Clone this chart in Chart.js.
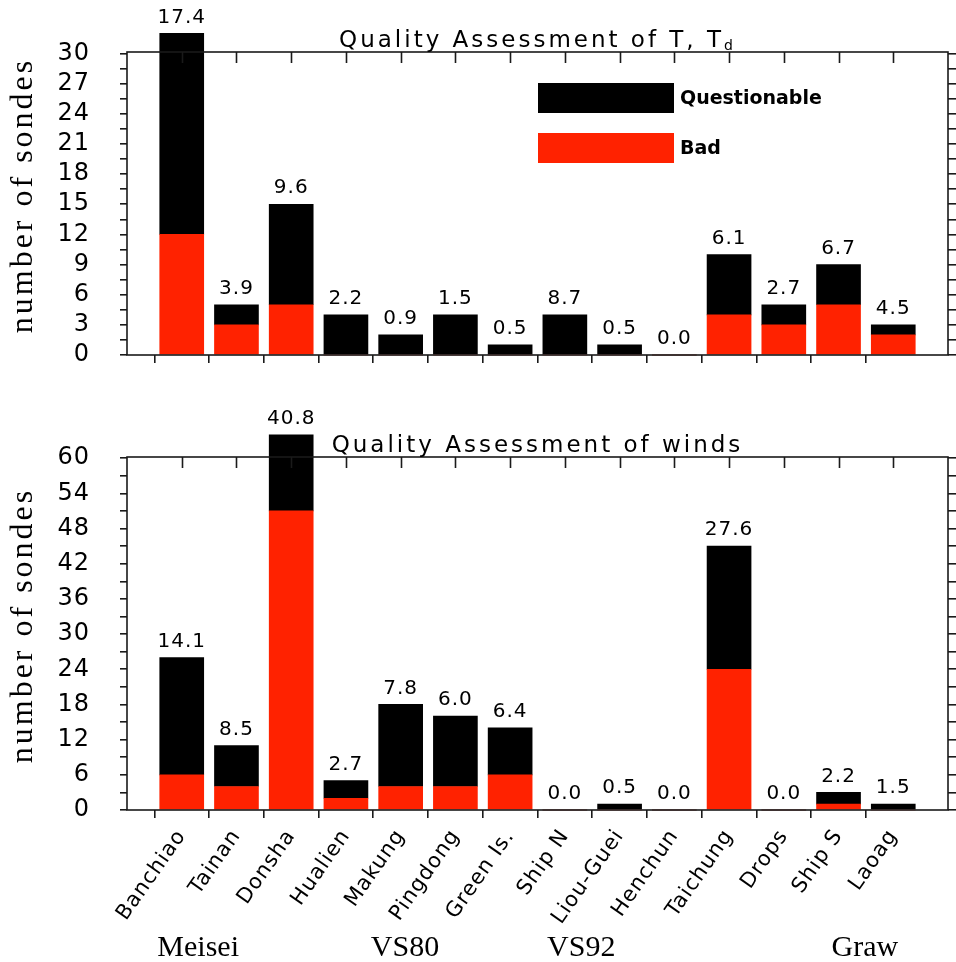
<!DOCTYPE html>
<html>
<head>
<meta charset="utf-8">
<script src="https://cdn.jsdelivr.net/npm/chart.js@4.4.1/dist/chart.umd.min.js"></script>
<style>
  html, body { margin: 0; padding: 0; background: #fff; }
  #wrap { position: relative; width: 956px; height: 962px; }
  #tempChart { position: absolute; left: 0; top: 0; }
  #windChart { position: absolute; left: 0; top: 380px; }
</style>
</head>
<body>
<div id="wrap">
  <canvas id="tempChart" width="956" height="380"></canvas>
  <canvas id="windChart" width="956" height="582"></canvas>
</div>
<script>
// Stations, in launch-site order
const stations = ['Banchiao', 'Tainan', 'Donsha', 'Hualien', 'Makung', 'Pingdong', 'Green Is.',
                  'Ship N', 'Liou-Guei', 'Henchun', 'Taichung', 'Drops', 'Ship S', 'Laoag'];

// Radiosonde types written under the station names, with their anchor in station units
const sondeTypes = ['Meisei', 'VS80', 'VS92', 'Graw'];
const sondeTypeAt = [1.3, 5.08, 8.3, 13.48];

// Temperature / dew point check: counts of sondes
const tempBad          = [12, 3, 5, 0, 0, 0, 0, 0, 0, 0, 4, 3, 5, 2];
const tempQuestionable = [20, 2, 10, 4, 2, 4, 1, 4, 1, 0, 6, 2, 4, 1];
const tempPercent      = ['17.4', '3.9', '9.6', '2.2', '0.9', '1.5', '0.5', '8.7', '0.5', '0.0', '6.1', '2.7', '6.7', '4.5'];

// Wind check: counts of sondes
const windBad          = [6, 4, 51, 2, 4, 4, 6, 0, 0, 0, 24, 0, 1, 0];
const windQuestionable = [20, 7, 13, 3, 14, 12, 8, 0, 1, 0, 21, 0, 2, 1];
const windPercent      = ['14.1', '8.5', '40.8', '2.7', '7.8', '6.0', '6.4', '0.0', '0.5', '0.0', '27.6', '0.0', '2.2', '1.5'];

// Axis ranges: [max, labelled step, minor tick step]
const tempAxis = [30.15, 3, 1.5];
const windAxis = [60.2, 6, 3];

const RED = '#ff2200';
const BLACK = '#000000';
const FRAME = '#1a1a1a';
const SANS = "'DejaVu Sans', sans-serif";
const SERIF = "'Liberation Serif', serif";

Chart.defaults.font.family = SANS;
Chart.defaults.color = '#000';

// one empty slot on either side of the stations
const padded = arr => [null, ...arr, null];

// Frame, inner top ticks, panel title, axis title, value labels, legend and sonde-type names
const decor = {
  id: 'decor',
  beforeDraw(chart) {
    // slightly open spacing for the axis tick labels
    chart.ctx.letterSpacing = '1px';
  },
  afterDraw(chart, args, opts) {
    const ctx = chart.ctx;
    const area = chart.chartArea;
    const xs = chart.scales.x;
    const ys = chart.scales.y;
    ctx.letterSpacing = '0px';
    ctx.save();

    // frame
    ctx.strokeStyle = FRAME;
    ctx.lineWidth = 1.6;
    ctx.strokeRect(area.left, area.top, area.right - area.left, area.bottom - area.top);

    // ticks pointing inward from the top edge
    ctx.beginPath();
    for (let i = 1; i <= stations.length; i++) {
      const x = Math.round(xs.getPixelForValue(i)) + 0.5;
      ctx.moveTo(x, area.top);
      ctx.lineTo(x, area.top + 11);
    }
    ctx.stroke();

    // panel title with optional subscript
    ctx.fillStyle = '#000';
    ctx.font = '23px ' + SANS;
    ctx.letterSpacing = '3px';
    ctx.textBaseline = 'alphabetic';
    ctx.textAlign = 'left';
    const main = opts.title;
    const sub = opts.sub || '';
    const wMain = ctx.measureText(main).width;
    ctx.font = '14px ' + SANS;
    const wSub = sub ? ctx.measureText(sub).width : 0;
    const total = wMain + wSub;
    const cx = (area.left + area.right) / 2;
    const ty = area.top - 5;
    ctx.font = '23px ' + SANS;
    ctx.fillText(main, cx - total / 2, ty);
    if (sub) {
      ctx.font = '14px ' + SANS;
      ctx.fillText(sub, cx - total / 2 + wMain, ty + 3);
    }

    // vertical axis title
    ctx.save();
    ctx.translate(32, (area.top + area.bottom) / 2 - 8);
    ctx.rotate(-Math.PI / 2);
    ctx.font = '32px ' + SERIF;
    ctx.letterSpacing = '3px';
    ctx.textAlign = 'center';
    ctx.textBaseline = 'alphabetic';
    ctx.fillText(opts.axisTitle, 0, 0);
    ctx.restore();

    // value labels above each stack
    const bad = chart.data.datasets[0].data;
    const q = chart.data.datasets[1].data;
    ctx.font = '20px ' + SANS;
    ctx.letterSpacing = '1px';
    ctx.textAlign = 'center';
    ctx.textBaseline = 'bottom';
    opts.percent.forEach((txt, i) => {
      const idx = i + 1;
      const sum = (bad[idx] || 0) + (q[idx] || 0);
      ctx.fillText(txt, xs.getPixelForValue(idx), ys.getPixelForValue(sum) - 6);
    });
    ctx.letterSpacing = '0px';

    // legend inside the frame
    if (opts.legend) {
      const items = chart.data.datasets.slice().reverse();
      const lx = area.left + 411;
      let ly = area.top + 31;
      ctx.font = 'bold 19px ' + SANS;
      ctx.textAlign = 'left';
      ctx.textBaseline = 'middle';
      items.forEach(ds => {
        ctx.fillStyle = ds.backgroundColor;
        ctx.fillRect(lx, ly, 136, 30);
        ctx.fillStyle = '#000';
        ctx.fillText(ds.label, lx + 142, ly + 16);
        ly += 50;
      });
    }

    // sonde type names under the station labels
    if (opts.types) {
      ctx.font = '30px ' + SERIF;
      ctx.textAlign = 'center';
      ctx.textBaseline = 'alphabetic';
      sondeTypes.forEach((name, i) => {
        ctx.fillText(name, xs.getPixelForValue(sondeTypeAt[i]), chart.height - 6);
      });
    }
    ctx.restore();
  }
};

function isMajor(v, step) {
  const r = v / step;
  return Math.abs(r - Math.round(r)) < 1e-6;
}

function makeChart(id, cfg) {
  const [max, major, minor] = cfg.axis;
  return new Chart(document.getElementById(id), {
    type: 'bar',
    data: {
      labels: ['', ...stations, ''],
      datasets: [
        { label: 'Bad', data: padded(cfg.bad), backgroundColor: RED, barThickness: 44, clip: false },
        { label: 'Questionable', data: padded(cfg.questionable), backgroundColor: BLACK, barThickness: 44, clip: false }
      ]
    },
    options: {
      responsive: false,
      animation: false,
      layout: { padding: { top: cfg.padTop, left: 0, right: 0, bottom: 0 } },
      plugins: {
        legend: { display: false },
        tooltip: { enabled: false },
        decor: {
          title: cfg.title, sub: cfg.sub, percent: cfg.percent,
          legend: cfg.legend, types: cfg.types, axisTitle: 'number of sondes'
        }
      },
      scales: {
        x: {
          stacked: true,
          offset: false,
          border: { display: false },
          grid: {
            drawOnChartArea: false,
            tickLength: 8,
            lineWidth: 1.6,
            color: c => (c.index === 0 || c.index === stations.length + 1) ? 'rgba(0,0,0,0)' : FRAME
          },
          ticks: {
            display: cfg.types,
            autoSkip: false,
            minRotation: 55,
            maxRotation: 55,
            padding: 7,
            font: { size: 21 },
            color: '#000'
          },
          afterFit: s => {
            s.height = cfg.xHeight;
            s.paddingLeft = 0;
            s.paddingRight = 0;
          }
        },
        y: {
          stacked: true,
          position: 'left',
          min: 0,
          max: max,
          border: { display: false },
          grid: { drawOnChartArea: false, tickLength: 7, lineWidth: 1.6, color: FRAME },
          ticks: {
            stepSize: minor,
            autoSkip: false,
            includeBounds: false,
            padding: 30,
            font: { size: 24 },
            color: '#000',
            callback: v => isMajor(v, major) ? String(Math.round(v)) : ''
          },
          afterFit: s => { s.width = 127; s.paddingTop = 0; s.paddingBottom = 0; }
        },
        y2: {
          position: 'right',
          min: 0,
          max: max,
          border: { display: false },
          grid: { drawOnChartArea: false, tickLength: 8, lineWidth: 1.6, color: FRAME },
          ticks: { stepSize: minor, autoSkip: false, includeBounds: false, display: false },
          afterFit: s => { s.width = 8; s.paddingTop = 0; s.paddingBottom = 0; }
        }
      }
    },
    plugins: [decor]
  });
}

makeChart('tempChart', {
  axis: tempAxis,
  bad: tempBad,
  questionable: tempQuestionable,
  percent: tempPercent,
  title: 'Quality Assessment of T, T',
  sub: 'd',
  legend: true,
  types: false,
  padTop: 52,
  xHeight: 25
});

makeChart('windChart', {
  axis: windAxis,
  bad: windBad,
  questionable: windQuestionable,
  percent: windPercent,
  title: 'Quality Assessment of winds',
  sub: '',
  legend: false,
  types: true,
  padTop: 77,
  xHeight: 152
});
</script>
</body>
</html>
